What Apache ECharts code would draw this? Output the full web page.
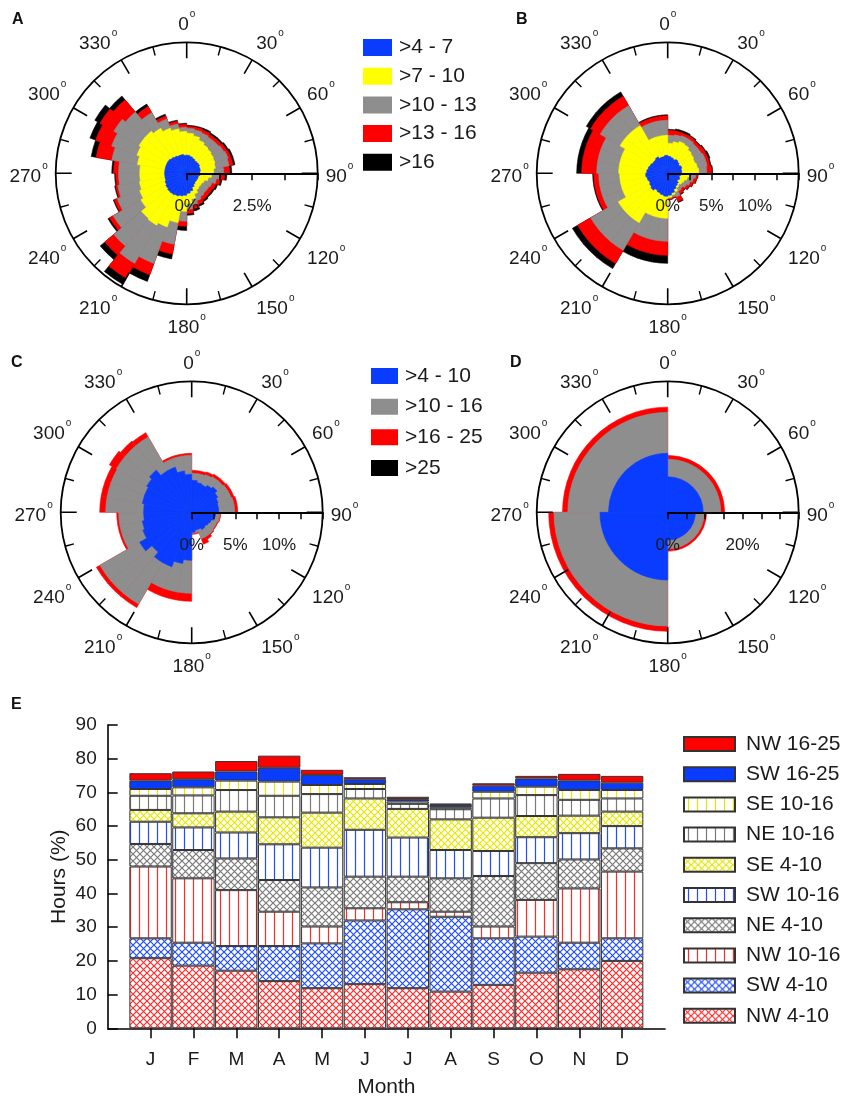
<!DOCTYPE html>
<html>
<head>
<meta charset="utf-8">
<script src="https://cdn.jsdelivr.net/npm/echarts@6/dist/echarts.min.js"></script>
<style>
html, body { margin: 0; padding: 0; background: #fff; }
#chart { width: 848px; height: 1097px; }
</style>
</head>
<body>
<div id="chart"></div>
<script>
// wind direction bins (start angle of each 10 degree sector)
var bins10 = ['0','10','20','30','40','50','60','70','80','90','100','110','120','130','140','150','160','170',
  '180','190','200','210','220','230','240','250','260','270','280','290','300','310','320','330','340','350'];
var binsQuad = ['0', '90', '180', '270'];

// A: cumulative frequency (%) up to each speed class
var aUpTo7 = [0.69,0.65,0.61,0.57,0.57,0.57,0.53,0.53,0.50, 0.50,0.46,0.46,0.46,0.46,0.50,0.57,0.69,0.76,
  0.84,0.88,0.92,0.95,0.95,0.92,0.88,0.84, 0.84,0.84,0.84,0.84,0.84,0.80,0.76,0.73,0.73,0.69];
var aUpTo10 = [1.53,1.45,1.34,1.26,1.22,1.18,1.15,1.11,1.03, 0.95,0.84,0.73,0.69,0.69,0.73,0.84,0.99,1.15,
  1.45,1.91,2.18,2.29,2.25,2.02,1.91,1.83, 1.79,1.79,1.91,2.02,2.10,2.10,1.98,1.83,1.72,1.60];
var aUpTo13 = [1.72,1.68,1.64,1.60,1.60,1.64,1.68,1.64,1.41, 1.26,1.15,1.03,0.99,0.99,1.03,1.11,1.22,1.37,
  1.83,2.75,3.66,3.97,3.63,3.24,2.82,2.67, 2.60,2.60,2.90,3.05,3.21,3.05,2.67,2.21,1.91,1.76];
var aUpTo16 = [1.79,1.79,1.76,1.72,1.72,1.76,1.79,1.79,1.64, 1.45,1.30,1.18,1.15,1.15,1.18,1.26,1.37,1.53,
  2.02,3.13,4.12,4.62,4.08,3.40,2.94,2.75, 2.71,2.79,3.51,3.70,3.82,3.66,2.94,2.33,2.02,1.87];
var aAll = [1.83,1.83,1.83,1.79,1.79,1.83,1.87,1.87,1.72, 1.53,1.37,1.26,1.22,1.22,1.26,1.34,1.45,1.60,
  2.18,3.32,4.39,4.89,4.31,3.47,2.98,2.79, 2.75,2.86,3.70,3.93,4.05,3.85,3.05,2.40,2.06,1.91];

// B
var bUpTo7 = [1.95,1.83,1.72,1.83,1.72,1.60,1.72,1.60,1.60, 1.49,1.37,1.49,1.37,1.60,1.72,1.95,2.29,2.52,
  2.63,2.52,2.40,2.29,2.52,2.40,2.29,2.40,2.52, 2.40,2.29,2.18,2.06,2.06,2.18,1.95,1.95,2.06];
var bUpTo10 = [3.44,3.66,3.89,3.78,3.55,3.44,3.32,3.44,3.55, 2.52,2.29,2.06,1.95,1.83,1.95,2.29,2.52,2.75,
  5.15,5.15,5.15,6.53,6.53,6.53,5.50,5.50,5.50, 5.61,5.61,5.61,6.30,6.30,6.30,4.35,4.35,4.35];
var bUpTo13 = [4.35,4.47,4.58,4.58,4.47,4.47,4.58,4.58,4.47, 3.21,2.98,2.75,2.52,2.29,2.40,2.86,2.75,2.86,
  7.79,7.79,7.79,10.19,10.19,10.19,7.90,7.90,7.90, 8.13,8.13,8.13,8.93,8.93,8.93,6.07,6.07,6.07];
var bUpTo16 = [4.92,4.92,4.92,4.92,4.81,4.92,4.92,4.92,5.04, 3.44,3.32,3.09,2.86,2.63,2.75,3.44,2.86,2.98,
  9.39,9.39,9.39,11.91,11.91,11.91,8.47,8.47,8.47, 9.85,9.85,9.85,10.19,10.19,10.19,6.58,6.58,6.58];
var bAll = [5.04,5.15,5.15,5.04,4.92,5.04,5.15,5.04,5.15, 3.49,3.38,3.15,2.92,2.69,2.86,3.55,2.92,3.03,
  10.31,10.31,10.31,12.60,12.60,12.60,8.59,8.59,8.59, 10.42,10.42,10.42,10.76,10.76,10.76,6.70,6.70,6.70];

// C
var cUpTo10 = [3.66,3.44,3.32,3.55,3.78,3.44,3.21,3.09,3.09, 2.75,2.63,2.40,2.29,2.18,2.29,2.06,2.06,2.29,
  5.50,5.95,6.64,6.64,5.95,6.87,5.95,5.73,5.50, 5.50,5.73,5.73,5.95,6.30,5.50,5.50,4.81,4.35];
var cUpTo16 = [4.47,4.47,4.58,4.70,4.70,4.81,4.81,4.92,4.92, 3.21,3.21,3.09,3.09,3.21,3.21,3.21,2.40,2.40,
  9.28,9.28,9.28,12.14,12.14,12.14,8.36,8.36,8.36, 9.85,9.85,9.85,9.96,9.96,9.96,6.53,6.53,6.53];
var cUpTo25 = [4.81,4.81,4.92,5.04,5.04,5.15,5.15,5.27,5.27, 3.32,3.32,3.21,3.21,3.32,3.55,3.89,2.52,2.52,
  10.19,10.19,10.19,12.60,12.60,12.60,8.59,8.59,8.59, 10.53,10.53,10.53,10.88,10.65,10.53,6.76,6.76,6.76];
var cAll = []; // >25 too small to show

// D (quadrants)
var dUpTo10 = [9.5, 7.4, 18.1, 15.8];
var dUpTo16 = [14.2, 9.8, 30.4, 26.7];
var dUpTo25 = [15.2, 10.4, 31.8, 28.1];
var dAll = [];

var classAB = ['>4 - 7', '>7 - 10', '>10 - 13', '>13 - 16', '>16'];
var classCD = ['>4 - 10', '>10 - 16', '>16 - 25', '>25'];

// E: monthly hours (%)
var months = ['J','F','M','A','M','J','J','A','S','O','N','D'];
var nw410  = [20.8, 18.6, 17.1, 14.0, 11.9, 13.1, 11.9, 10.9, 12.9, 16.5, 17.5, 20.0];
var sw410  = [5.9, 6.8, 7.3, 10.4, 13.3, 18.9, 23.4, 22.2, 13.8, 10.7, 7.9, 6.7];
var nw1016 = [21.3, 19.1, 16.6, 10.2, 5.0, 3.6, 2.1, 1.5, 3.5, 10.9, 16.1, 19.8];
var ne410  = [6.7, 8.4, 9.4, 9.4, 11.6, 9.4, 7.6, 9.9, 15.0, 10.9, 8.6, 6.9];
var sw1016 = [6.6, 6.7, 7.7, 10.6, 11.8, 13.9, 11.6, 8.4, 7.4, 7.7, 7.8, 6.6];
var se410  = [3.5, 4.2, 6.2, 8.0, 10.4, 9.3, 8.5, 9.1, 9.9, 6.3, 5.2, 4.3];
var ne1016 = [4.2, 5.3, 6.4, 6.4, 5.5, 2.8, 1.5, 3.0, 5.7, 6.2, 4.7, 3.9];
var se1016 = [2.0, 2.4, 2.8, 4.2, 2.7, 1.5, 0.7, 0.6, 2.0, 2.5, 2.9, 2.5];
var sw1625 = [2.5, 2.4, 2.7, 4.1, 3.0, 1.4, 0.7, 0.7, 1.8, 2.4, 2.8, 2.2];
var nw1625 = [2.2, 2.3, 3.1, 3.6, 1.5, 0.6, 0.7, 0.4, 0.7, 0.8, 2.0, 2.0];

var FONT = '"Liberation Sans", Arial, sans-serif';
var BLUE = '#0a3cff', YELLOW = '#ffff00', GRAY = '#8e8e8e', RED = '#ff0000', BLACK = '#000000';

// hatch tiles for panel E
function tile(color, kind) {
  var c = document.createElement('canvas');
  var s = kind === 'v' ? 9 : 7;
  c.width = s; c.height = s;
  var g = c.getContext('2d');
  g.fillStyle = '#fff';
  g.fillRect(0, 0, s, s);
  g.strokeStyle = color;
  g.lineWidth = 1.2;
  g.beginPath();
  if (kind === 'v') {
    g.moveTo(4.5, 0); g.lineTo(4.5, s);
  } else {
    g.moveTo(0, 0); g.lineTo(s, s);
    g.moveTo(s, 0); g.lineTo(0, s);
  }
  g.stroke();
  return { image: c, repeat: 'repeat' };
}

// rose panels
var panels = [
  { center: [186.7, 173.3], max: 5, step: 1.25, labels: [0, 2.5], bins: bins10,
    names: classAB, colors: [BLUE, YELLOW, GRAY, RED, BLACK], cum: [aUpTo7, aUpTo10, aUpTo13, aUpTo16, aAll] },
  { center: [667.7, 173.3], max: 15, step: 2.5, labels: [0, 5, 10], bins: bins10,
    names: classAB, colors: [BLUE, YELLOW, GRAY, RED, BLACK], cum: [bUpTo7, bUpTo10, bUpTo13, bUpTo16, bAll] },
  { center: [191.7, 512.3], max: 15, step: 2.5, labels: [0, 5, 10], bins: bins10,
    names: classCD, colors: [BLUE, GRAY, RED, BLACK], cum: [cUpTo10, cUpTo16, cUpTo25, cAll] },
  { center: [667.7, 512.3], max: 35, step: 5, labels: [0, 20], bins: binsQuad,
    names: classCD, colors: [BLUE, GRAY, RED, BLACK], cum: [dUpTo10, dUpTo16, dUpTo25, dAll] }
];

var polar = [], angleAxis = [], radiusAxis = [], series = [];
var R = 131;

panels.forEach(function (p, k) {
  polar.push({ center: p.center, radius: R });
  angleAxis.push({
    polarIndex: k, type: 'category', data: p.bins, startAngle: 90, boundaryGap: true,
    axisLine: { show: false }, axisTick: { show: false }, axisLabel: { show: false }, splitLine: { show: false }
  });
  radiusAxis.push({
    polarIndex: k, type: 'value', min: 0, max: p.max, show: false,
    axisLine: { show: false }, axisTick: { show: false }, axisLabel: { show: false }, splitLine: { show: false }
  });
  // outermost class first so inner classes are drawn on top
  for (var j = p.cum.length - 1; j >= 0; j--) {
    series.push({
      type: 'bar', coordinateSystem: 'polar', polarIndex: k,
      name: p.names[j], data: p.cum[j],
      barGap: '-100%', barCategoryGap: '0%',
      itemStyle: { color: p.colors[j], borderColor: p.colors[j], borderWidth: 0.6 },
      z: 2
    });
  }
});

// frame polars: circle, compass ticks, radial scale
panels.forEach(function (p, k) {
  polar.push({ center: p.center, radius: R });
  angleAxis.push({
    polarIndex: k + 4, type: 'value', min: 90, max: 450, interval: 30,
    startAngle: 0, clockwise: true, z: 10,
    axisLine: { show: true, lineStyle: { color: '#000', width: 1.8 } },
    axisTick: { show: true, inside: true, length: 16, lineStyle: { color: '#000', width: 1.6 } },
    minorTick: { show: true, splitNumber: 2, length: 9, lineStyle: { color: '#000', width: 1.4 } },
    splitLine: { show: false },
    axisLabel: {
      margin: 8,
      formatter: function (v) {
        if (v >= 450) return '';
        return '{a|' + (v % 360) + '}{b|o}';
      },
      rich: {
        a: { fontSize: 19, fontFamily: FONT, color: '#1a1a1a', padding: [6, 0, 0, 0] },
        b: { fontSize: 10, fontFamily: FONT, color: '#1a1a1a', verticalAlign: 'top', padding: [0, 0, 0, 1] }
      }
    }
  });
  radiusAxis.push({
    polarIndex: k + 4, type: 'value', min: 0, max: p.max, interval: p.step, z: 11,
    axisLine: { show: true, lineStyle: { color: '#000', width: 1.8 } },
    axisTick: { show: true, length: -7, lineStyle: { color: '#000', width: 1.5 } },
    splitLine: { show: false },
    axisLabel: {
      margin: -42, fontSize: 17, fontFamily: FONT, color: '#1a1a1a',
      formatter: function (v) { return p.labels.indexOf(v) >= 0 ? v + '%' : ''; }
    }
  });
});

// panel E stacked bars (bottom to top)
var eNames = ['NW 4-10', 'SW 4-10', 'NW 10-16', 'NE 4-10', 'SW 10-16', 'SE 4-10', 'NE 10-16', 'SE 10-16', 'SW 16-25', 'NW 16-25'];
var eData = [nw410, sw410, nw1016, ne410, sw1016, se410, ne1016, se1016, sw1625, nw1625];
var eFill = [
  tile('#ff2a2a', 'x'), tile('#1f4dff', 'x'), tile('#ff2a2a', 'v'), tile('#7a7a7a', 'x'), tile('#1f4dff', 'v'),
  tile('#e6e600', 'x'), tile('#7a7a7a', 'v'), tile('#e6e600', 'v'), '#0a3cff', '#ff0000'
];
eNames.forEach(function (n, i) {
  series.push({
    type: 'bar', name: n, stack: 'month', xAxisIndex: 0, yAxisIndex: 0,
    data: [null].concat(eData[i]).concat([null]),
    barWidth: 42.4,
    itemStyle: { color: eFill[i], borderColor: '#333', borderWidth: 1 }
  });
});

var chart = echarts.init(document.getElementById('chart'), null, { renderer: 'canvas' });
chart.setOption({
  animation: false,
  backgroundColor: '#fff',
  textStyle: { fontFamily: FONT, color: '#1a1a1a' },
  title: [
    { text: 'A', left: 12, top: 12, padding: 0, textStyle: { fontSize: 16, fontWeight: 'bold', fontFamily: FONT, color: '#111' } },
    { text: 'B', left: 516, top: 12, padding: 0, textStyle: { fontSize: 16, fontWeight: 'bold', fontFamily: FONT, color: '#111' } },
    { text: 'C', left: 11, top: 355, padding: 0, textStyle: { fontSize: 16, fontWeight: 'bold', fontFamily: FONT, color: '#111' } },
    { text: 'D', left: 510, top: 355, padding: 0, textStyle: { fontSize: 16, fontWeight: 'bold', fontFamily: FONT, color: '#111' } },
    { text: 'E', left: 11, top: 697, padding: 0, textStyle: { fontSize: 16, fontWeight: 'bold', fontFamily: FONT, color: '#111' } }
  ],
  legend: [
    { data: classAB, orient: 'vertical', left: 363, top: 37, padding: 0, icon: 'rect',
      itemWidth: 27, itemHeight: 15, itemGap: 7.7, selectedMode: false,
      textStyle: { fontSize: 21, fontFamily: FONT, color: '#1a1a1a', padding: [0, 0, 0, 3] } },
    { data: classCD, orient: 'vertical', left: 371, top: 365.6, padding: 0, icon: 'rect',
      itemWidth: 25, itemHeight: 14, itemGap: 9.6, selectedMode: false,
      textStyle: { fontSize: 21, fontFamily: FONT, color: '#1a1a1a', padding: [0, 0, 0, 3] } },
    { data: eNames.slice().reverse(), orient: 'vertical', left: 683, top: 733.5, padding: 0, icon: 'rect',
      itemWidth: 51, itemHeight: 14, itemGap: 9.2, selectedMode: false,
      textStyle: { fontSize: 21, fontFamily: FONT, color: '#1a1a1a', padding: [0, 0, 0, 6] } }
  ],
  polar: polar,
  angleAxis: angleAxis,
  radiusAxis: radiusAxis,
  grid: { left: 107.7, right: 183, top: 725, bottom: 68.7, containLabel: false, outerBoundsMode: 'none' },
  xAxis: {
    type: 'category', data: [''].concat(months).concat(['']), boundaryGap: false,
    name: 'Month', nameLocation: 'middle', nameGap: 48,
    nameTextStyle: { fontSize: 21, fontFamily: FONT, color: '#1a1a1a' },
    axisLine: { show: true, lineStyle: { color: '#000', width: 1.6 } },
    axisTick: { show: true, length: 10, lineStyle: { color: '#000', width: 1.5 },
      interval: function (i) { return i > 0 && i < 13; } },
    axisLabel: { interval: 0, margin: 22, fontSize: 19, fontFamily: FONT, color: '#1a1a1a' },
    splitLine: { show: false }
  },
  yAxis: {
    type: 'value', min: 0, max: 90, interval: 10,
    name: 'Hours (%)', nameLocation: 'middle', nameGap: 38, nameRotate: 90, nameMoveOverlap: false,
    nameTextStyle: { fontSize: 21, fontFamily: FONT, color: '#1a1a1a' },
    axisLine: { show: true, lineStyle: { color: '#000', width: 1.6 } },
    axisTick: { show: true, inside: true, length: 10, lineStyle: { color: '#000', width: 1.5 } },
    axisLabel: { margin: 11, fontSize: 19, fontFamily: FONT, color: '#1a1a1a' },
    splitLine: { show: false }
  },
  series: series
});
</script>
</body>
</html>
